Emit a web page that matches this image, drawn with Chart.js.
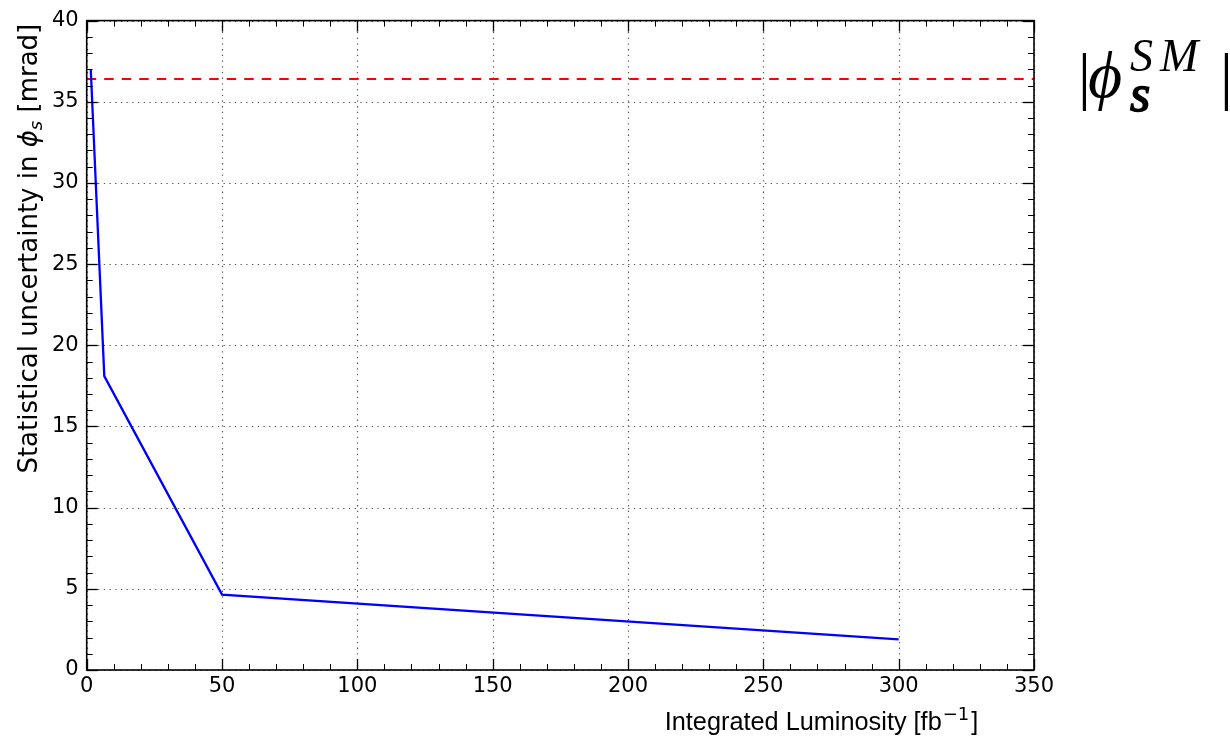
<!DOCTYPE html>
<html><head><meta charset="utf-8">
<script src="https://cdn.jsdelivr.net/npm/chart.js@4.4.1/dist/chart.umd.min.js"></script>
<style>html,body{margin:0;padding:0;background:#fff}#wrap{width:1230px;height:736px;position:relative}</style>
</head><body><div id="wrap"><canvas id="c"></canvas></div>
<script>
// ---- data ----
const luminosity = [1.5, 6.5, 50, 300];
const phiUncertainty = [37.0, 18.1, 4.64, 1.89];
const smLineX = [0, 350];
const smLineY = [36.4, 36.4];
const xTicks = [0, 50, 100, 150, 200, 250, 300, 350];
const yTicks = [0, 5, 10, 15, 20, 25, 30, 35, 40];
const xMinorStep = 10;
const yMinorStep = 1;
const xTitle = 'Integrated Luminosity [fb';
const xTitleSup = '\u22121';
const yTitleParts = ['Statistical uncertainty in ', '\u03D5', 's', ' [mrad]'];

function seg(ctx, x1, y1, x2, y2) { ctx.beginPath(); ctx.moveTo(x1, y1); ctx.lineTo(x2, y2); ctx.stroke(); }

const axesPlugin = {
  id: 'mplAxes',
  beforeDatasetsDraw(chart) {
    const { ctx, chartArea: ca, scales: { x, y } } = chart;
    ctx.save();
    ctx.strokeStyle = '#555';
    ctx.lineWidth = 1.2;
    ctx.setLineDash([1.3, 4.4]);
    for (const v of xTicks) { const p = Math.round(x.getPixelForValue(v)) + 0.5; seg(ctx, p, ca.top, p, ca.bottom); }
    for (const v of yTicks) { const p = Math.round(y.getPixelForValue(v)) + 0.5; seg(ctx, ca.left, p, ca.right, p); }
    ctx.restore();
  },
  afterDatasetsDraw(chart) {
    const { ctx, chartArea: ca, scales: { x, y } } = chart;
    ctx.save();
    ctx.setLineDash([]);
    ctx.strokeStyle = '#000';
    const majL = 11, minL = 6;
    for (let v = xTicks[0]; v <= xTicks[xTicks.length - 1] + 1e-9; v += xMinorStep) {
      const p = Math.round(x.getPixelForValue(v)) + 0.5;
      const major = (v % 50 === 0);
      ctx.lineWidth = major ? 1.3 : 1;
      const L = major ? majL : minL;
      seg(ctx, p, ca.bottom, p, ca.bottom - L);
      seg(ctx, p, ca.top, p, ca.top + L);
    }
    for (let v = yTicks[0]; v <= yTicks[yTicks.length - 1] + 1e-9; v += yMinorStep) {
      const p = Math.round(y.getPixelForValue(v)) + 0.5;
      const major = (v % 5 === 0);
      ctx.lineWidth = major ? 1.3 : 1;
      const L = major ? majL : minL;
      seg(ctx, ca.left, p, ca.left + L, p);
      seg(ctx, ca.right, p, ca.right - L, p);
    }
    ctx.lineWidth = 1.6;
    ctx.strokeRect(ca.left, ca.top, ca.right - ca.left, ca.bottom - ca.top);
    ctx.restore();
  },
  afterDraw(chart) {
    const { ctx, chartArea: ca } = chart;
    ctx.save();
    ctx.fillStyle = '#000';
    ctx.strokeStyle = '#000';
    ctx.textBaseline = 'alphabetic';
    ctx.textAlign = 'left';
    // x title
    const fx = 25.3;
    ctx.font = fx + 'px "Liberation Sans"';
    let tx = ca.left + 578, ty = ca.bottom + 60;
    ctx.fillText(xTitle, tx, ty);
    tx += ctx.measureText(xTitle).width + 1;
    ctx.font = Math.round(fx * 0.7) + 'px "DejaVu Sans"';
    ctx.fillText(xTitleSup, tx, ty - 10);
    tx += ctx.measureText(xTitleSup).width + 2;
    ctx.font = fx + 'px "Liberation Sans"';
    ctx.fillText(']', tx, ty);

    // y title (rotated)
    ctx.save();
    ctx.translate(37, ca.top + 453);
    ctx.rotate(-Math.PI / 2);
    const fy = 26;
    let px = 0;
    ctx.font = fy + 'px "DejaVu Sans"';
    ctx.fillText(yTitleParts[0], px, 0); px += ctx.measureText(yTitleParts[0]).width;
    ctx.font = 'italic ' + fy + 'px "DejaVu Sans"';
    ctx.fillText(yTitleParts[1], px, 0); px += ctx.measureText(yTitleParts[1]).width;
    ctx.font = 'italic ' + Math.round(fy * 0.7) + 'px "DejaVu Sans"';
    ctx.fillText(yTitleParts[2], px, 5); px += ctx.measureText(yTitleParts[2]).width;
    ctx.font = fy + 'px "DejaVu Sans"';
    ctx.fillText(yTitleParts[3], px, 0);
    ctx.restore();

    // |phi_s^SM| label
    const bx = ca.right + 44, by = ca.top + 76;
    ctx.font = '64px "Liberation Serif"';
    ctx.fillText('|', bx, by);
    ctx.font = 'italic 66px "Liberation Serif", "DejaVu Serif"';
    ctx.fillText('\u03D5', bx + 10, by);
    ctx.font = 'italic 46px "Liberation Serif"';
    ctx.fillText('S', bx + 52, by - 26);
    ctx.fillText('M', bx + 82, by - 26);
    ctx.font = 'italic 52px "Liberation Serif"';
    ctx.lineWidth = 1.6;
    ctx.fillText('s', bx + 52, by + 14);
    ctx.strokeText('s', bx + 52, by + 14);
    ctx.font = '64px "Liberation Serif"';
    ctx.fillText('|', bx + 142, by);
    ctx.restore();
  }
};

new Chart(document.getElementById('c'), {
  type: 'scatter',
  data: {
    datasets: [
      {
        label: 'stat',
        data: luminosity.map((v, i) => ({ x: v, y: phiUncertainty[i] })),
        showLine: true,
        borderColor: '#0000ff',
        borderWidth: 2.3,
        pointRadius: 0,
        tension: 0,
        order: 0
      },
      {
        label: 'SM',
        data: smLineX.map((v, i) => ({ x: v, y: smLineY[i] })),
        showLine: true,
        borderColor: '#ff0000',
        borderWidth: 2,
        borderDash: [9.5, 8],
        pointRadius: 0,
        order: 1
      }
    ]
  },
  options: {
    responsive: true,
    maintainAspectRatio: false,
    animation: false,
    events: [],
    layout: { padding: { left: 0, right: 196, top: 19, bottom: 0 } },
    plugins: { legend: { display: false }, tooltip: { enabled: false } },
    scales: {
      x: {
        type: 'linear', min: 0, max: 350,
        grid: { display: false, drawTicks: false },
        border: { display: false },
        afterFit(s) { s.height = 66; },
        afterBuildTicks(s) { s.ticks = xTicks.map(v => ({ value: v })); },
        ticks: { font: { family: 'DejaVu Sans', size: 21 }, color: '#000', padding: 4, maxRotation: 0, autoSkip: false }
      },
      y: {
        type: 'linear', min: 0, max: 40,
        grid: { display: false, drawTicks: false },
        border: { display: false },
        afterFit(s) { s.width = 86.7; },
        afterBuildTicks(s) { s.ticks = yTicks.map(v => ({ value: v })); },
        ticks: { font: { family: 'DejaVu Sans', size: 21 }, color: '#000', padding: 8, autoSkip: false }
      }
    }
  },
  plugins: [axesPlugin]
});
</script>
</body></html>
